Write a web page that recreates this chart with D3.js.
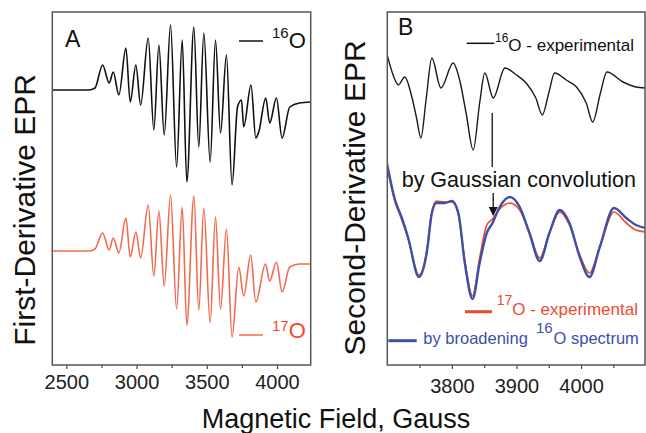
<!DOCTYPE html>
<html>
<head>
<meta charset="utf-8">
<script src="https://cdnjs.cloudflare.com/ajax/libs/d3/7.8.5/d3.min.js"></script>
<style>
  body { margin: 0; background: #fff; }
  text { font-family: "Liberation Sans", Arial, Helvetica, sans-serif; }
</style>
</head>
<body>
<div id="chart"></div>
<script>
// DATA: [field (Gauss), intensity (a.u.) relative to baseline]
// panel A: first-derivative EPR
const a16O = [
  [2400, 0], [2660, 0], [2704, 0.2], [2758, 2.5], [2805, 0.7], [2834, 1.8], [2874, -0.5],
  [2924, 4.2], [2955, -1.2], [2995, 2.5], [3029, -1.5], [3083, 5.2], [3123, -4.0],
  [3159, 4.5], [3197, -4.5], [3242, 6.5], [3285, -7.7], [3325, 5.0], [3358, -9.2],
  [3408, 6.3], [3443, -5.7], [3479, 5.7], [3524, -7.2], [3562, 5.0], [3598, -4.3],
  [3640, 3.5], [3680, -9.5], [3719, -1.7], [3747, -1.0], [3763, -3.7], [3815, 0.5],
  [3849, -4.8], [3870, -4.2], [3920, -0.8], [3948, -3.3], [3996, -0.8], [4036, -4.8],
  [4091, -1.7], [4160, -1.3], [4250, -1.2]
];
const a17O = [
  [2400, 0], [2660, 0], [2704, 0.2], [2758, 1.8], [2805, 0.1], [2834, 1.3], [2874, -0.2],
  [2924, 3.3], [2955, -0.6], [2995, 1.9], [3029, -0.7], [3083, 4.6], [3123, -2.5],
  [3159, 4.0], [3197, -3.5], [3242, 5.6], [3285, -5.8], [3325, 4.4], [3358, -7.4],
  [3408, 5.5], [3443, -5.9], [3479, 4.3], [3524, -7.2], [3562, 3.4], [3598, -5.8],
  [3640, 2.2], [3680, -8.6], [3728, -1.6], [3763, -4.5], [3813, -0.4], [3849, -5.1],
  [3918, -1.3], [3948, -3.0], [3996, -1.1], [4036, -4.1], [4091, -1.6], [4160, -1.3],
  [4250, -1.3]
];
const aOffsets = { o16: 27.5, o17: 11.4 };
const aTicks = [2500, 3000, 3500, 4000];
const aMinor = [2750, 3250, 3750];

// panel B: second-derivative EPR
const b16O = [
  [3699, 3.5], [3712, 0.8], [3717, 0.3], [3727, 1.1], [3738, -0.9], [3745, -2.9],
  [3752, -5.0], [3760, -1.2], [3769, 3.0], [3783, 0.0], [3802, 2.5], [3812, 0.8],
  [3822, -2.5], [3833, -6.2], [3843, -1.5], [3851, 1.5], [3864, -1.0], [3882, 2.0],
  [3900, 1.3], [3915, 0.5], [3930, -1.0], [3940, -2.7], [3950, -0.5], [3959, 1.5],
  [3977, 0.8], [3993, 0.1], [4008, -1.5], [4018, -3.4], [4030, -0.5], [4040, 1.6],
  [4065, 0.6], [4085, 0.1], [4100, 0.0]
];
const b17O = [
  [3699, 6.4], [3712, 2.6], [3722, 0.9], [3732, -1.0], [3749, -4.7], [3761, -2.3],
  [3769, 1.6], [3776, 2.7], [3789, 2.6], [3800, 2.6], [3810, 1.4], [3820, -3.3],
  [3832, -6.8], [3843, -3.0], [3854, 0.3], [3863, 0.9], [3874, 1.9], [3890, 2.5],
  [3905, 1.8], [3920, -0.4], [3936, -3.0], [3951, -0.5], [3967, 1.6], [3982, 0.3],
  [3998, -2.7], [4013, -4.5], [4029, -1.9], [4051, 1.6], [4070, 0.5], [4085, -0.2],
  [4100, -0.4]
];
const bBroad = [
  [3699, 6.6], [3712, 2.8], [3722, 1.1], [3732, -0.9], [3749, -4.9], [3761, -2.5],
  [3769, 1.5], [3776, 2.5], [3789, 2.5], [3800, 2.7], [3810, 1.5], [3820, -3.5],
  [3832, -7.1], [3843, -3.5], [3854, -0.5], [3863, 0.5], [3874, 2.1], [3890, 3.1],
  [3905, 2.1], [3920, -0.5], [3936, -3.3], [3951, -0.5], [3967, 1.8], [3982, 0.5],
  [3998, -2.9], [4013, -4.9], [4029, -1.9], [4051, 2.0], [4070, 1.0], [4085, 0.3],
  [4100, 0.0]
];
const bOffsets = { o16: 27.7, fit: 13.7 };
const bTicks = [3800, 3900, 4000];
const bMinor = [3750, 3850, 3950, 4050];
const arrowField = 3864;


// dimensions
const w = 646;
const h = 433;
const padTop = 12;
const padBot = 365;
const aLeft = 52.3, aRight = 310.7;
const bLeft = 387.3, bRight = 645;

const svg = d3.select("#chart")
  .append("svg")
  .attr("width", w)
  .attr("height", h);

// scales
const xA = d3.scaleLinear().domain([2400, 4240]).range([aLeft, aRight]);
const xB = d3.scaleLinear().domain([3700, 4099]).range([bLeft, bRight]);
const yScale = d3.scaleLinear().domain([0, 35.3]).range([padBot, padTop]);

// clip paths
const defs = svg.append("defs");
defs.append("clipPath").attr("id", "clipA")
  .append("rect").attr("x", aLeft).attr("y", padTop).attr("width", aRight - aLeft).attr("height", padBot - padTop);
defs.append("clipPath").attr("id", "clipB")
  .append("rect").attr("x", bLeft).attr("y", padTop).attr("width", bRight - bLeft).attr("height", padBot - padTop);
defs.append("marker").attr("id", "arrow")
  .attr("viewBox", "0 0 10 10").attr("refX", 9).attr("refY", 5)
  .attr("markerWidth", 7).attr("markerHeight", 7).attr("orient", "auto")
  .append("path").attr("d", "M0,0 L10,5 L0,10 z").attr("fill", "#111");

function lineFor(xs, off) {
  return d3.line()
    .x(d => xs(d[0]))
    .y(d => yScale(d[1] + off))
    .curve(d3.curveMonotoneX);
}

// AXES
function addAxis(xs, major, minor, labelY) {
  const gMaj = svg.append("g")
    .attr("transform", `translate(0, ${padBot})`)
    .call(d3.axisBottom(xs).tickValues(major).tickSize(4).tickFormat(d3.format("d")));
  gMaj.select(".domain").remove();
  gMaj.selectAll("line").attr("stroke", "#444").attr("stroke-width", 1.2);
  gMaj.selectAll("text")
    .attr("y", labelY).attr("dy", "0.71em")
    .attr("fill", "#222")
    .style("font-size", "20px");
  const gMin = svg.append("g")
    .attr("transform", `translate(0, ${padBot})`)
    .call(d3.axisBottom(xs).tickValues(minor).tickSize(3).tickFormat(""));
  gMin.select(".domain").remove();
  gMin.selectAll("line").attr("stroke", "#444").attr("stroke-width", 1.2);
}
addAxis(xA, aTicks, aMinor, 10);
addAxis(xB, bTicks, bMinor, 14);

// PANEL A curves
const gA = svg.append("g").attr("clip-path", "url(#clipA)");
gA.append("path").datum(a16O)
  .attr("d", lineFor(xA, aOffsets.o16))
  .attr("fill", "none").attr("stroke", "#111").attr("stroke-width", 1.6);
gA.append("path").datum(a17O)
  .attr("d", lineFor(xA, aOffsets.o17))
  .attr("fill", "none").attr("stroke", "#f26a4f").attr("stroke-width", 1.6);

// PANEL B curves
const gB = svg.append("g").attr("clip-path", "url(#clipB)");
gB.append("path").datum(b16O)
  .attr("d", lineFor(xB, bOffsets.o16))
  .attr("fill", "none").attr("stroke", "#1a1a1a").attr("stroke-width", 1.4);
gB.append("path").datum(b17O)
  .attr("d", lineFor(xB, bOffsets.fit))
  .attr("fill", "none").attr("stroke", "#ee4b2b").attr("stroke-width", 1.7);
gB.append("path").datum(bBroad)
  .attr("d", lineFor(xB, bOffsets.fit))
  .attr("fill", "none").attr("stroke", "#3d4fa8").attr("stroke-width", 2.4);

// frames
svg.append("rect").attr("x", aLeft).attr("y", padTop)
  .attr("width", aRight - aLeft).attr("height", padBot - padTop)
  .attr("fill", "none").attr("stroke", "#555").attr("stroke-width", 1.5);
svg.append("rect").attr("x", bLeft).attr("y", padTop)
  .attr("width", bRight - bLeft).attr("height", padBot - padTop)
  .attr("fill", "none").attr("stroke", "#555").attr("stroke-width", 1.5);

// panel letters
svg.append("text").text("A").attr("x", 65).attr("y", 47).style("font-size", "23px").attr("fill", "#111");
svg.append("text").text("B").attr("x", 398).attr("y", 35).style("font-size", "23px").attr("fill", "#111");

// LEGEND A
function isoLabel(x, yBase, mass, rest, supSize, mainSize, supRise, color) {
  const t = svg.append("text").attr("x", x).attr("y", yBase).attr("fill", color);
  t.append("tspan").text(mass).style("font-size", supSize + "px").attr("dy", -supRise);
  t.append("tspan").text(rest).style("font-size", mainSize + "px").attr("dy", supRise);
  return t;
}
svg.append("line").attr("x1", 239).attr("x2", 263).attr("y1", 41).attr("y2", 41)
  .attr("stroke", "#111").attr("stroke-width", 1.5);
isoLabel(272, 48, "16", "O", 15, 22, 10, "#111");
svg.append("line").attr("x1", 239).attr("x2", 263).attr("y1", 335).attr("y2", 335)
  .attr("stroke", "#f26a4f").attr("stroke-width", 1.5);
isoLabel(272, 338, "17", "O", 15, 22, 7, "#f04a30");

// LEGEND B
svg.append("line").attr("x1", 466.7).attr("x2", 494.3).attr("y1", 43.3).attr("y2", 43.3)
  .attr("stroke", "#111").attr("stroke-width", 1.5);
isoLabel(495, 51, "16", "O - experimental", 12, 17, 9, "#111");

svg.append("line").attr("x1", 465).attr("x2", 492).attr("y1", 311.7).attr("y2", 311.7)
  .attr("stroke", "#ee4b2b").attr("stroke-width", 3);
isoLabel(496.7, 315, "17", "O - experimental", 14, 17, 10, "#f04a30");

svg.append("line").attr("x1", 388.3).attr("x2", 416.7).attr("y1", 340.7).attr("y2", 340.7)
  .attr("stroke", "#3d4fa8").attr("stroke-width", 3);
const broad = svg.append("text").attr("x", 423.3).attr("y", 344).attr("fill", "#3d4fa8");
broad.append("tspan").text("by broadening").style("font-size", "16.5px");
broad.append("tspan").text("16").style("font-size", "15px").attr("dx", 8).attr("dy", -11);
broad.append("tspan").text("O spectrum").style("font-size", "16.5px").attr("dx", 1).attr("dy", 11);

// annotation: by Gaussian convolution
svg.append("line")
  .attr("x1", xB(arrowField) - 1).attr("x2", xB(arrowField) - 1)
  .attr("y1", 113).attr("y2", 167)
  .attr("stroke", "#111").attr("stroke-width", 1.3);
svg.append("text").text("by Gaussian convolution").attr("x", 401.7).attr("y", 187)
  .style("font-size", "21.5px").attr("fill", "#111");
svg.append("line")
  .attr("x1", xB(arrowField)).attr("x2", xB(arrowField))
  .attr("y1", 193).attr("y2", 215)
  .attr("stroke", "#111").attr("stroke-width", 1.3)
  .attr("marker-end", "url(#arrow)");

// AXIS TITLES
svg.append("text").text("Magnetic Field, Gauss")
  .attr("x", 336).attr("y", 428).attr("text-anchor", "middle")
  .style("font-size", "27px").attr("fill", "#111");
svg.append("text").text("First-Derivative EPR")
  .attr("transform", "translate(35, 210) rotate(-90)")
  .attr("text-anchor", "middle")
  .style("font-size", "30px").attr("fill", "#111");
svg.append("text").text("Second-Derivative EPR")
  .attr("transform", "translate(365, 198) rotate(-90)")
  .attr("text-anchor", "middle")
  .style("font-size", "30px").attr("fill", "#111");
</script>
</body>
</html>
